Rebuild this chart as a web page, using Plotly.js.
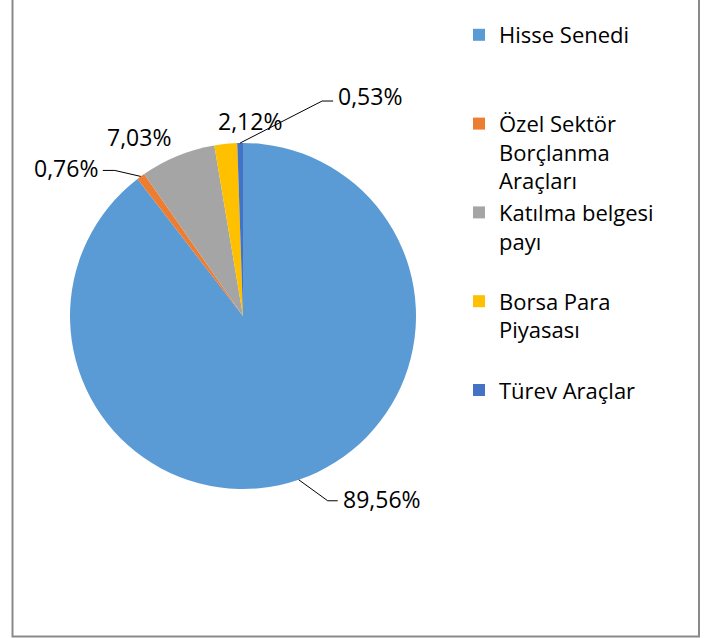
<!DOCTYPE html>
<html>
<head>
<meta charset="utf-8">
<script src="https://cdn.plot.ly/plotly-3.0.1.min.js"></script>
<style>
  html, body { margin: 0; padding: 0; background: #fff; }
  #chart { width: 704px; height: 638px; }
</style>
</head>
<body>
<div id="chart"></div>
<script>
// ---- data ----
const categories = [
  "Hisse Senedi",
  "Özel Sektör<br>Borçlanma<br>Araçları",
  "Katılma belgesi<br>payı",
  "Borsa Para<br>Piyasası",
  "Türev Araçlar"
];
const shares = [89.56, 0.76, 7.03, 2.12, 0.53];
const colors = ["#5B9BD5", "#ED7D31", "#A5A5A5", "#FFC000", "#4472C4"];

// ---- label placement (pixel offsets from the slice's outer edge midpoint) ----
const labelPlacement = [
  { elbow: [29, 21], hook: 10, text: [42, 19], anchor: "left" },
  { elbow: [-26, -6], hook: -12, text: [-41, -8], anchor: "right" },
  { elbow: null, text: [-39, -19], anchor: "center" },
  { elbow: null, text: [24, -23], anchor: "center" },
  { elbow: [82, -42], hook: 11, text: [96, -47], anchor: "left" }
];

const W = 704, H = 638;
const pieDomain = { x: [70 / W, 416 / W], y: [(H - 489) / H, (H - 143) / H] };
const FONT = "Open Sans, Liberation Sans, sans-serif";

// pie geometry in pixels (margins are 0, so paper == figure)
const cx = (pieDomain.x[0] + pieDomain.x[1]) / 2 * W;
const cy = (1 - (pieDomain.y[0] + pieDomain.y[1]) / 2) * H;
const r = Math.min((pieDomain.x[1] - pieDomain.x[0]) * W, (pieDomain.y[1] - pieDomain.y[0]) * H) / 2;

const px = x => x / W;
const py = y => 1 - y / H;

const total = shares.reduce((a, b) => a + b, 0);
const annotations = [];
const shapes = [];
let cum = 0;
shares.forEach((v, i) => {
  const mid = (cum + v / 2) / total * 2 * Math.PI;
  cum += v;
  const ex = cx + r * Math.sin(mid);
  const ey = cy - r * Math.cos(mid);
  const p = labelPlacement[i];
  const txt = v.toFixed(2).replace(".", ",") + "%";
  annotations.push({
    xref: "paper", yref: "paper",
    x: px(ex + p.text[0]), y: py(ey + p.text[1]),
    xanchor: p.anchor, yanchor: "middle",
    text: txt, showarrow: false,
    font: { family: FONT, size: 23, color: "#000" }
  });
  if (p.elbow) {
    const bx = ex + p.elbow[0], by = ey + p.elbow[1];
    shapes.push({
      type: "path", xref: "paper", yref: "paper",
      path: `M ${px(ex)},${py(ey)} L ${px(bx)},${py(by)} L ${px(bx + p.hook)},${py(by)}`,
      line: { color: "#000", width: 1 }
    });
  }
});

// outer frame
shapes.push({
  type: "rect", xref: "paper", yref: "paper",
  x0: 12.5 / W, x1: 699 / W, y0: 1.5 / H, y1: 1.05,
  line: { color: "#8a8a8a", width: 2 }, fillcolor: "rgba(0,0,0,0)"
});

// legend labels padded to equal height
const legendLabels = categories.map(c => {
  const n = c.split("<br>").length;
  return c + "<br> ".repeat(3 - n);
});

const trace = {
  type: "pie",
  labels: legendLabels,
  values: shares,
  marker: { colors: colors, line: { width: 0 } },
  sort: false,
  direction: "clockwise",
  rotation: 0,
  textinfo: "none",
  hoverinfo: "none",
  domain: pieDomain
};

const layout = {
  width: W, height: H,
  margin: { l: 0, r: 0, t: 0, b: 0, autoexpand: false },
  paper_bgcolor: "#fff",
  showlegend: true,
  legend: {
    x: 459 / W, y: py(14), xanchor: "left", yanchor: "top",
    valign: "top",
    font: { family: FONT, size: 22, color: "#000" },
    bgcolor: "rgba(0,0,0,0)", borderwidth: 0
  },
  annotations: annotations,
  shapes: shapes
};

Plotly.newPlot("chart", [trace], layout, { staticPlot: true, displayModeBar: false });
</script>
</body>
</html>
